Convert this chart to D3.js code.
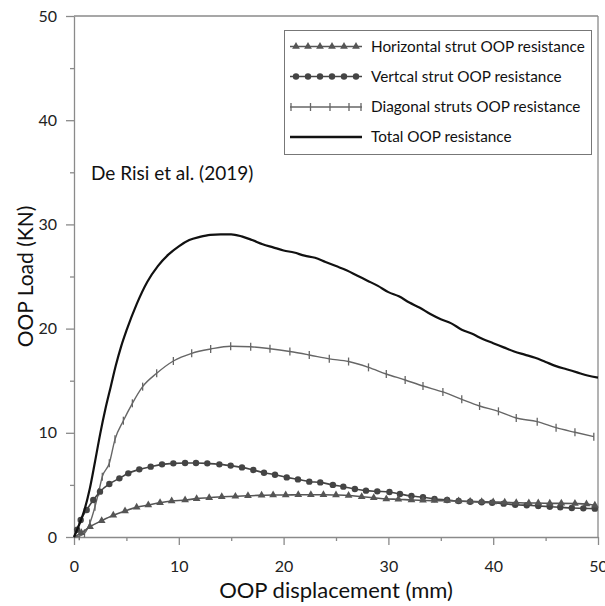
<!DOCTYPE html>
<html><head><meta charset="utf-8">
<script src="https://cdn.jsdelivr.net/npm/d3@7"></script>
<style>body{margin:0;background:#fff}svg{display:block;font-family:Lato,"Open Sans",sans-serif}</style>
</head><body><svg id="c" width="605" height="606"></svg>
<script>
const seriesNames = ["Horizontal strut OOP resistance","Vertcal strut OOP resistance","Diagonal struts OOP resistance","Total OOP resistance"];
const xTicks = [0,10,20,30,40,50];
const yTicks = [0,10,20,30,40,50];
const minorTicks = [5,15,25,35,45];

const totalX = [0,0.5,1,1.5,2,2.5,3,3.5,4,4.5,5,6,7,8,9,10,11,12,13,14,15,16,17,18,19,20,21,22,23,24,25,26,27,28,29,30,31,32,33,34,35,36,37,38,39,40,41,42,43,44,45,46,47,48,49,50];
const totalY = [0,1.2,2.6,4.6,7.2,9.9,12.3,14.4,16.5,18.3,19.8,22.4,24.5,26.0,27.1,27.9,28.5,28.8,29.0,29.05,29.05,28.85,28.5,28.1,27.8,27.5,27.3,27.0,26.8,26.4,26.0,25.6,25.1,24.6,24.1,23.5,23.1,22.5,22.0,21.4,20.9,20.5,19.9,19.5,19.0,18.6,18.2,17.8,17.5,17.2,16.8,16.4,16.1,15.8,15.5,15.3];

const horizX = [0,0.7,1.53,2.64,3.75,4.87,5.98,7.09,8.21,9.32,10.6,11.7,12.9,14.1,15.4,16.6,17.9,19.0,20.2,21.4,22.6,23.8,25.0,26.2,27.45,28.6,29.8,30.95,32.2,33.3,34.4,35.6,36.7,37.8,38.9,40.0,41.1,42.2,43.4,44.3,45.4,46.5,47.8,48.9,49.7];
const horizY = [0,0.4,0.99,1.56,2.08,2.50,2.85,3.07,3.29,3.45,3.55,3.68,3.77,3.87,3.90,3.96,4.00,4.03,4.03,4.06,4.06,4.06,4.03,3.98,3.87,3.77,3.65,3.62,3.55,3.52,3.49,3.49,3.45,3.42,3.39,3.36,3.33,3.29,3.26,3.26,3.23,3.23,3.21,3.17,3.04];

const vertX = [0,0.3,0.64,1.21,1.84,2.48,3.37,4.33,5.18,6.23,7.32,8.40,9.48,10.6,11.64,12.72,13.87,14.95,16.03,17.11,18.13,19.18,20.3,21.37,22.45,23.5,24.7,25.7,26.8,27.86,28.94,30.1,31.1,32.2,33.3,34.4,35.6,36.7,37.8,38.9,39.9,41.0,42.1,43.2,44.3,45.4,46.4,47.5,48.6,49.7];
const vertY = [0,0.7,1.63,2.59,3.55,4.35,5.09,5.63,6.11,6.49,6.75,6.97,7.07,7.10,7.10,7.07,6.97,6.85,6.68,6.43,6.17,5.98,5.72,5.53,5.31,5.24,5.00,4.83,4.61,4.45,4.38,4.32,4.13,3.93,3.81,3.65,3.55,3.45,3.39,3.33,3.29,3.20,3.10,3.04,2.98,2.91,2.85,2.78,2.75,2.72];

const diagX = [0,0.5,1.0,1.5,2.0,2.35,2.70,3.37,3.91,4.71,5.57,6.55,7.89,9.48,11.23,13.04,14.95,16.86,18.7,20.6,22.45,24.36,26.2,28.1,29.8,31.6,33.3,35.2,37.0,38.7,40.5,42.2,44.2,46.0,47.8,49.6];
const diagY = [0,0.08,0.35,1.3,2.9,4.3,5.79,7.07,9.37,11.16,12.83,14.43,15.71,16.89,17.63,18.04,18.30,18.26,18.07,17.80,17.47,17.10,16.84,16.28,15.64,15.07,14.49,13.92,13.21,12.57,12.06,11.42,11.07,10.49,10.05,9.63];

const svg = d3.select("#c");
const x = d3.scaleLinear().domain([0,50]).range([74,598]);
const y = d3.scaleLinear().domain([0,50]).range([537,16]);
const axisColor = "#8a8a8a";

// frame top/right
svg.append("line").attr("x1",x(0)).attr("x2",x(50)).attr("y1",y(50)).attr("y2",y(50)).attr("stroke",axisColor).attr("stroke-width",1.3);
svg.append("line").attr("x1",x(50)).attr("x2",x(50)).attr("y1",y(50)).attr("y2",y(0)).attr("stroke",axisColor).attr("stroke-width",1.3);

function styleAxis(g){
  g.select(".domain").attr("stroke",axisColor).attr("stroke-width",1.3);
  g.selectAll(".tick line").attr("stroke",axisColor).attr("stroke-width",1.3);
  g.selectAll(".tick text").attr("fill","#222").style("font-size","16px").style("font-family","Lato, sans-serif");
}
const gx = svg.append("g").attr("transform",`translate(0,${y(0)})`)
  .call(d3.axisBottom(x).tickValues(xTicks).tickSize(8).tickSizeOuter(0).tickPadding(16));
styleAxis(gx);
const gxm = svg.append("g").attr("transform",`translate(0,${y(0)})`)
  .call(d3.axisBottom(x).tickValues(minorTicks).tickSize(4).tickFormat(""));
styleAxis(gxm); gxm.select(".domain").remove();
const gy = svg.append("g").attr("transform",`translate(${x(0)},0)`)
  .call(d3.axisLeft(y).tickValues(yTicks).tickSize(8).tickSizeOuter(0).tickPadding(9));
styleAxis(gy);
const gym = svg.append("g").attr("transform",`translate(${x(0)},0)`)
  .call(d3.axisLeft(y).tickValues(minorTicks).tickSize(4).tickFormat(""));
styleAxis(gym); gym.select(".domain").remove();

// axis titles
svg.append("text").attr("x",(x(0)+x(50))/2).attr("y",598).attr("text-anchor","middle")
  .style("font-size","22px").attr("fill","#111").text("OOP displacement (mm)");
svg.append("text").attr("transform",`translate(33,${(y(0)+y(50))/2}) rotate(-90)`).attr("text-anchor","middle")
  .style("font-size","21px").attr("fill","#111").text("OOP Load (KN)");

// annotation
svg.append("text").attr("x",91).attr("y",180).style("font-size","19px").attr("fill","#111").text("De Risi et al. (2019)");

const mkLine = (xs,ys)=> d3.line().x((d,i)=>x(xs[i])).y((d,i)=>y(ys[i])).curve(d3.curveMonotoneX)(xs);

const triPath = d3.symbol().type(d3.symbolTriangle).size(26)();
const cols = {h:"#555", v:"#444", d:"#666", t:"#111"};

// diagonal
svg.append("path").attr("d",mkLine(diagX,diagY)).attr("fill","none").attr("stroke",cols.d).attr("stroke-width",1.4);
svg.append("g").selectAll("line").data(diagX.slice(1)).join("line")
  .attr("x1",(d)=>x(d)).attr("x2",(d)=>x(d))
  .attr("y1",(d,i)=>y(diagY[i+1])-4).attr("y2",(d,i)=>y(diagY[i+1])+4)
  .attr("stroke",cols.d).attr("stroke-width",1.3);

// vertical
svg.append("path").attr("d",mkLine(vertX,vertY)).attr("fill","none").attr("stroke",cols.v).attr("stroke-width",1.6);
svg.append("g").selectAll("circle").data(vertX.slice(1)).join("circle")
  .attr("cx",(d)=>x(d)).attr("cy",(d,i)=>y(vertY[i+1])).attr("r",3.2).attr("fill",cols.v);

// horizontal
svg.append("path").attr("d",mkLine(horizX,horizY)).attr("fill","none").attr("stroke",cols.h).attr("stroke-width",1.6);
svg.append("g").selectAll("path").data(horizX.slice(1)).join("path")
  .attr("d",triPath).attr("transform",(d,i)=>`translate(${x(d)},${y(horizY[i+1])})`).attr("fill",cols.h);

// total
svg.append("path").attr("d",mkLine(totalX,totalY)).attr("fill","none").attr("stroke",cols.t).attr("stroke-width",2.2);

// legend
const lg = svg.append("g");
lg.append("rect").attr("x",284.5).attr("y",30.5).attr("width",307).attr("height",124).attr("fill","#fff").attr("stroke","#777").attr("stroke-width",1);
const rowY = [46.5,76.5,107,137];
const lx0 = 290, lx1 = 362;
const mk = d3.range(6).map(i=>296+i*12);
seriesNames.forEach((name,i)=>{
  const yy = rowY[i];
  lg.append("line").attr("x1",lx0).attr("x2",lx1).attr("y1",yy).attr("y2",yy)
    .attr("stroke",[cols.h,cols.v,cols.d,cols.t][i]).attr("stroke-width",i===3?2.4:1.6);
  if(i===0) mk.forEach(m=>lg.append("path").attr("d",triPath).attr("transform",`translate(${m},${yy})`).attr("fill",cols.h));
  if(i===1) mk.forEach(m=>lg.append("circle").attr("cx",m).attr("cy",yy).attr("r",3.2).attr("fill",cols.v));
  if(i===2) [291,310.5,330,349,361].forEach(m=>lg.append("line").attr("x1",m).attr("x2",m).attr("y1",yy-4).attr("y2",yy+4).attr("stroke",cols.d).attr("stroke-width",1.3));
  lg.append("text").attr("x",371).attr("y",yy+5).style("font-size","15.3px").attr("fill","#111").text(name);
});
</script></body></html>
